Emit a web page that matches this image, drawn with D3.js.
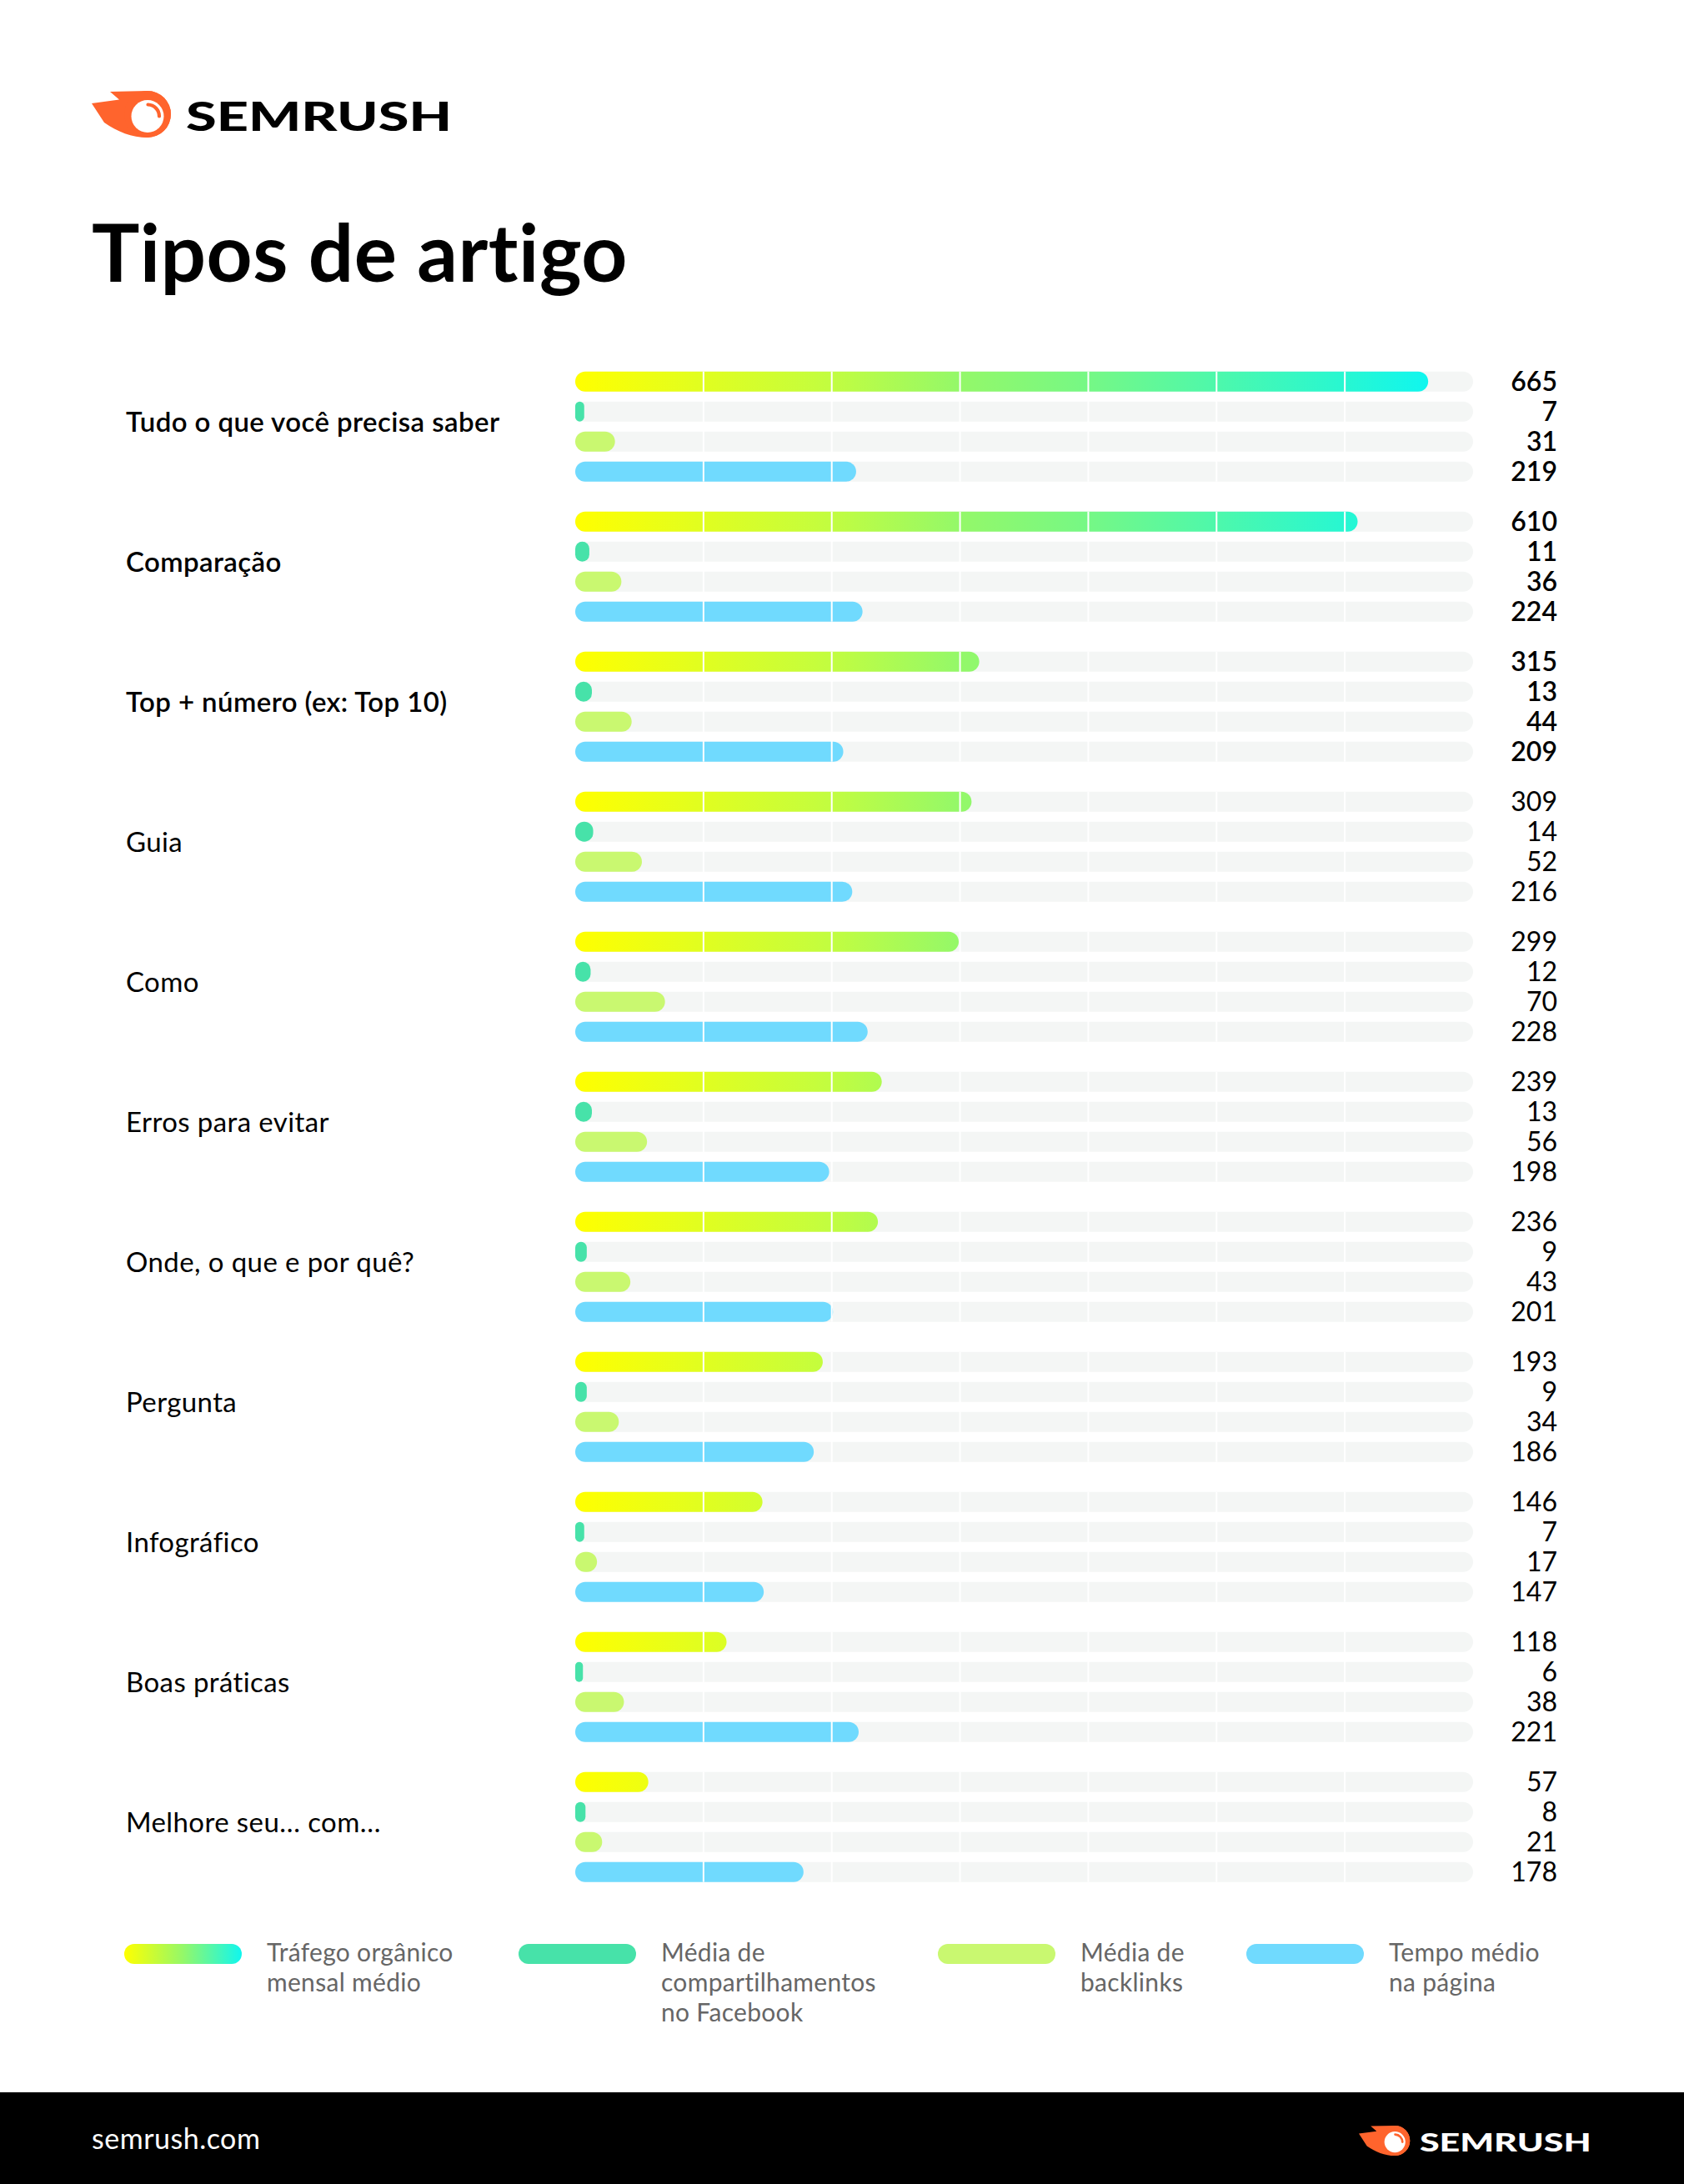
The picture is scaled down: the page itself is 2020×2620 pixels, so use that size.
<!DOCTYPE html>
<html>
<head>
<meta charset="utf-8">
<script src="https://cdn.jsdelivr.net/npm/d3@7"></script>
<style>
  html, body { margin: 0; padding: 0; background: #ffffff; }
  svg { display: block; }
  text { font-family: Lato, "Noto Sans", sans-serif; }
</style>
</head>
<body>
<svg id="chart" width="2020" height="2620"></svg>
<script>
// ---------- DATA ----------
const categories = [
  "Tudo o que você precisa saber",
  "Comparação",
  "Top + número (ex: Top 10)",
  "Guia",
  "Como",
  "Erros para evitar",
  "Onde, o que e por quê?",
  "Pergunta",
  "Infográfico",
  "Boas práticas",
  "Melhore seu… com…"
];
const traffic   = [665, 610, 315, 309, 299, 239, 236, 193, 146, 118, 57];
const shares    = [7, 11, 13, 14, 12, 13, 9, 9, 7, 6, 8];
const backlinks = [31, 36, 44, 52, 70, 56, 43, 34, 17, 38, 21];
const timeOnPage= [219, 224, 209, 216, 228, 198, 201, 186, 147, 221, 178];

const metrics = ["traffic", "shares", "backlinks", "time"];
const legendLabels = [
  ["Tráfego orgânico", "mensal médio"],
  ["Média de", "compartilhamentos", "no Facebook"],
  ["Média de", "backlinks"],
  ["Tempo médio", "na página"]
];
const axisMax = 700;
const title = "Tipos de artigo";
const footerText = "semrush.com";
const brand = "SEMRUSH";

// ---------- STYLE ----------
const ORANGE = "#FF642D";
const colors = { shares: "#47e2a9", backlinks: "#c9f870", time: "#70dafe" };
const trafficStops = [
  [0.00, "#ffff00"], [0.30, "#c2fd40"], [0.45, "#94f869"], [0.60, "#76f885"],
  [0.75, "#4ef8ab"], [0.90, "#28f7d1"], [1.00, "#10f6ef"]
];

const svg = d3.select("#chart");
const defs = svg.append("defs");

// ---------- SCALES ----------
const x = d3.scaleLinear().domain([0, axisMax]).range([690, 1767]);
const yGroup = d3.scaleBand().domain(categories).range([445.7, 445.7 + 168 * categories.length]);
const yRow = d3.scalePoint().domain(metrics).range([12, 120]);
const BAR_H = 24;

const gradTraffic = defs.append("linearGradient")
  .attr("id", "gradTraffic").attr("gradientUnits", "userSpaceOnUse")
  .attr("x1", x(0)).attr("x2", x(d3.max(traffic))).attr("y1", 0).attr("y2", 0);
trafficStops.forEach(s => gradTraffic.append("stop").attr("offset", s[0]).attr("stop-color", s[1]));

const gradLegend = defs.append("linearGradient")
  .attr("id", "gradLegend").attr("x1", 0).attr("x2", 1).attr("y1", 0).attr("y2", 0);
gradLegend.append("stop").attr("offset", 0).attr("stop-color", "#ffff00");
gradLegend.append("stop").attr("offset", 0.5).attr("stop-color", "#94f869");
gradLegend.append("stop").attr("offset", 1).attr("stop-color", "#10f6ef");

// ---------- LOGO ----------
function drawLogo(g, textColor) {
  g.append("path")
    .attr("d", "M132,110 L177,109 A28,28 0 0 1 177,165 C158,165 141,158 125,147 L110,124 L143,119.5 Z")
    .attr("fill", ORANGE);
  g.append("circle").attr("cx", 177).attr("cy", 137).attr("r", 28).attr("fill", ORANGE);
  g.append("circle").attr("cx", 177).attr("cy", 139.5).attr("r", 19.5).attr("fill", "#ffffff");
  g.append("path")
    .attr("d", "M177.5,125.5 A14,14 0 0 1 191,139.5")
    .attr("fill", "none").attr("stroke", ORANGE).attr("stroke-width", 4.2).attr("stroke-linecap", "round");
  g.append("text")
    .attr("x", 223).attr("y", 157)
    .attr("font-size", 48).attr("font-weight", 900)
    .attr("fill", textColor)
    .attr("textLength", 319).attr("lengthAdjust", "spacingAndGlyphs")
    .text(brand);
}
drawLogo(svg.append("g"), "#000000");

// ---------- TITLE ----------
svg.append("text")
  .attr("x", 110).attr("y", 338)
  .attr("font-size", 96).attr("font-weight", 700).attr("fill", "#000")
  .attr("letter-spacing", 0.5)
  .text(title);

// ---------- ROWS ----------
const rows = categories.map((c, i) => ({
  cat: c, i,
  vals: { traffic: traffic[i], shares: shares[i], backlinks: backlinks[i], time: timeOnPage[i] }
}));

const groups = svg.append("g").selectAll("g.grp").data(rows).join("g")
  .attr("class", "grp")
  .attr("transform", d => `translate(0,${yGroup(d.cat)})`);

// tracks
groups.selectAll("rect.track").data(metrics).join("rect")
  .attr("class", "track")
  .attr("x", x(0)).attr("width", x(axisMax) - x(0))
  .attr("y", m => yRow(m) - BAR_H / 2).attr("height", BAR_H)
  .attr("rx", BAR_H / 2).attr("fill", "#f4f6f5");

// bars
groups.each(function(d) {
  const g = d3.select(this);
  g.selectAll("rect.bar").data(metrics.map(m => ({ m, v: d.vals[m] }))).join("rect")
    .attr("class", "bar")
    .attr("x", x(0))
    .attr("width", e => x(e.v) - x(0))
    .attr("y", e => yRow(e.m) - BAR_H / 2).attr("height", BAR_H)
    .attr("rx", e => Math.min(BAR_H / 2, (x(e.v) - x(0)) / 2))
    .attr("fill", e => e.m === "traffic" ? "url(#gradTraffic)" : colors[e.m]);

  g.selectAll("text.val").data(metrics.map(m => ({ m, v: d.vals[m] }))).join("text")
    .attr("class", "val")
    .attr("x", 1868).attr("y", e => yRow(e.m))
    .attr("dy", "0.36em")
    .attr("text-anchor", "end")
    .attr("font-size", 32)
    .attr("font-weight", d.i < 3 ? 600 : 400)
    .attr("fill", "#000")
    .text(e => e.v);

  g.append("text")
    .attr("class", "cat")
    .attr("x", 151).attr("y", (yRow("shares") + yRow("backlinks")) / 2 + 6.3)
    .attr("font-size", 33)
    .attr("letter-spacing", 0.4)
    .attr("font-weight", d.i < 3 ? 600 : 400)
    .attr("fill", "#000")
    .text(d.cat);
});

// white gridlines
const gridTicks = x.ticks(7).filter(t => t > 0 && t < axisMax);
groups.each(function() {
  const g = d3.select(this);
  g.selectAll("line.grid").data(gridTicks).join("line")
    .attr("class", "grid")
    .attr("x1", t => x(t)).attr("x2", t => x(t))
    .attr("y1", yRow("traffic") - BAR_H / 2).attr("y2", yRow("time") + BAR_H / 2)
    .attr("stroke", "#ffffff").attr("stroke-width", 2);
});

// ---------- LEGEND ----------
const legendX = [149, 622, 1125, 1495];
const legendFills = ["url(#gradLegend)", colors.shares, colors.backlinks, colors.time];
const legend = svg.append("g").selectAll("g").data(legendLabels).join("g")
  .attr("transform", (d, i) => `translate(${legendX[i]},2332)`);
legend.append("rect")
  .attr("width", 141).attr("height", 24).attr("rx", 12)
  .attr("fill", (d, i) => legendFills[i]);
legend.each(function(lines) {
  const t = d3.select(this).append("text")
    .attr("x", 171).attr("y", 21)
    .attr("font-size", 30).attr("letter-spacing", 0.3).attr("fill", "#666666");
  lines.forEach((ln, k) => t.append("tspan").attr("x", 171).attr("dy", k === 0 ? 0 : 36).text(ln));
});

// ---------- FOOTER ----------
svg.append("rect").attr("x", 0).attr("y", 2510).attr("width", 2020).attr("height", 110).attr("fill", "#000");
svg.append("text")
  .attr("x", 110).attr("y", 2578)
  .attr("font-size", 34).attr("letter-spacing", 0.5).attr("fill", "#ffffff")
  .text(footerText);
const s = 0.645;
drawLogo(svg.append("g").attr("transform", `translate(${1630 - 110 * s},${2568 - 137 * s}) scale(${s})`), "#ffffff");
</script>
</body>
</html>
